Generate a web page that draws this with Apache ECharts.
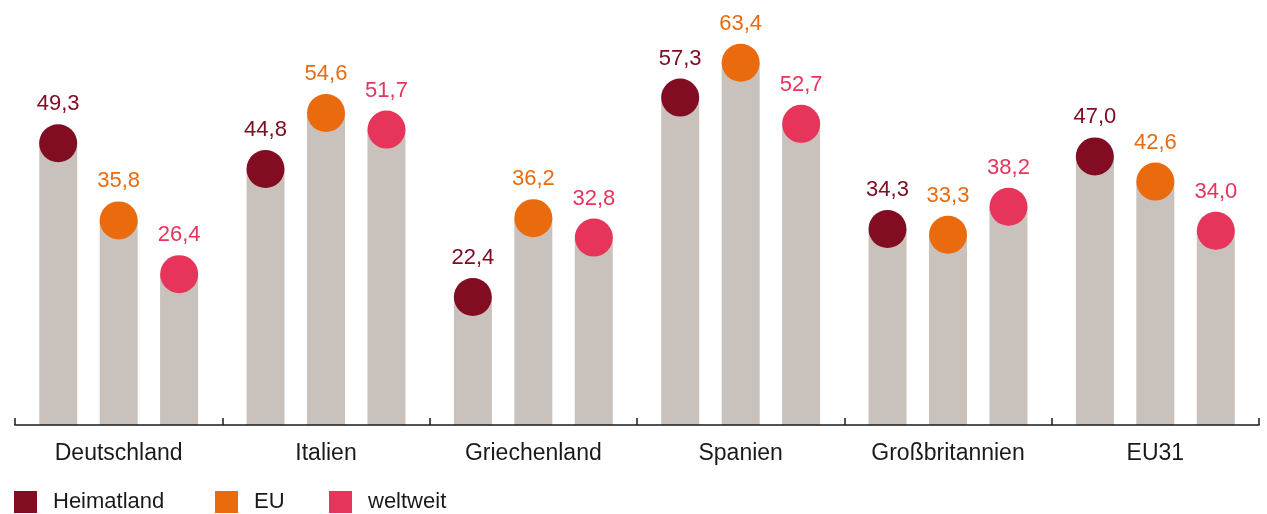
<!DOCTYPE html>
<html>
<head>
<meta charset="utf-8">
<script src="https://cdn.jsdelivr.net/npm/echarts@6/dist/echarts.min.js"></script>
<style>
  html, body { margin: 0; padding: 0; background: #ffffff; }
  #chart { width: 1267px; height: 514px; }
</style>
</head>
<body>
<div id="chart"></div>
<script>
var categories = ['Deutschland', 'Italien', 'Griechenland', 'Spanien', 'Großbritannien', 'EU31'];
var seriesNames = ['Heimatland', 'EU', 'weltweit'];
var heimatland = [49.3, 44.8, 22.4, 57.3, 34.3, 47.0];
var eu = [35.8, 54.6, 36.2, 63.4, 33.3, 42.6];
var weltweit = [26.4, 51.7, 32.8, 52.7, 38.2, 34.0];

var colors = ['#820c22', '#ea6a0e', '#e6345b'];
var barColor = '#c9c2bc';
var font = '"Liberation Sans", Arial, Helvetica, sans-serif';
var values = [heimatland, eu, weltweit];

var chart = echarts.init(document.getElementById('chart'), null, { renderer: 'canvas' });

var gridLeft = 15, gridRight = 8;
var catWidth = (1267 - gridLeft - gridRight) / categories.length;
var barWidth = 38;
var step = catWidth * 0.2918; // distance between bar centres within a group
var offsets = [-step, 0, step];

var series = [];
values.forEach(function (vals, i) {
  series.push({
    name: 'bar_' + seriesNames[i],
    type: 'bar',
    data: vals,
    barWidth: barWidth,
    barGap: '59%',
    itemStyle: { color: barColor },
    silent: true,
    z: 2
  });
});
values.forEach(function (vals, i) {
  series.push({
    name: seriesNames[i],
    type: 'scatter',
    data: vals,
    symbol: 'circle',
    symbolSize: 38,
    symbolOffset: [offsets[i], 0],
    itemStyle: { color: colors[i], opacity: 1 },
    label: {
      show: true,
      position: 'top',
      distance: 9,
      color: colors[i],
      fontFamily: font,
      fontSize: 22,
      formatter: function (p) { return p.value.toFixed(1).replace('.', ','); }
    },
    z: 5
  });
});

function legendAt(left, i) {
  return {
    left: left,
    top: 491,
    padding: 0,
    orient: 'horizontal',
    data: [{ name: seriesNames[i], icon: 'rect', itemStyle: { color: colors[i] } }],
    itemWidth: 23,
    itemHeight: 22,
    selectedMode: false,
    textStyle: { fontFamily: font, fontSize: 22, color: '#1a1a1a', padding: [0, 0, 0, 11] }
  };
}

var option = {
  animation: false,
  backgroundColor: '#ffffff',
  grid: { left: gridLeft, right: gridRight, top: 25, bottom: 89, containLabel: false },
  legend: [legendAt(14, 0), legendAt(215, 1), legendAt(329, 2)],
  xAxis: {
    type: 'category',
    data: categories,
    axisLine: { show: true, lineStyle: { color: '#1a1a1a', width: 1.5 } },
    axisTick: { show: true, inside: true, length: 7, lineStyle: { color: '#1a1a1a', width: 1.5 } },
    axisLabel: { fontFamily: font, fontSize: 23, color: '#1a1a1a', margin: 17 },
    z: 10
  },
  yAxis: {
    type: 'value',
    min: 0,
    max: 70,
    show: false,
    splitLine: { show: false }
  },
  series: series
};
chart.setOption(option);
</script>
</body>
</html>
